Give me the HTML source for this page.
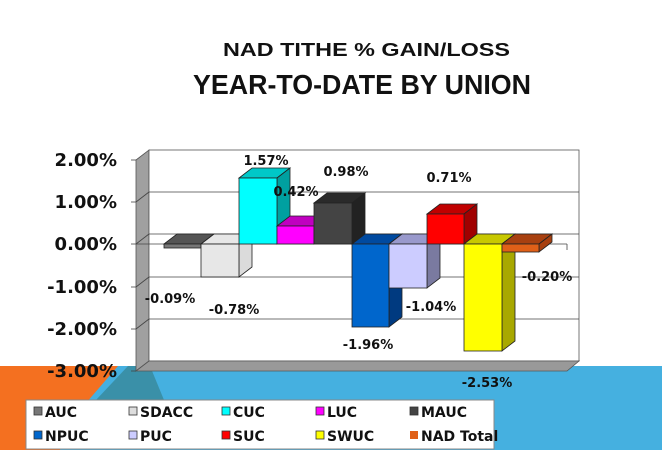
<!DOCTYPE html>
<html><head><style>
html,body{margin:0;padding:0;background:#fff;width:662px;height:450px;overflow:hidden}
svg{display:block}
text{font-family:"DejaVu Sans","Liberation Sans",sans-serif;font-weight:bold;fill:#111}
</style></head><body>
<svg width="662" height="450" viewBox="0 0 662 450" xmlns="http://www.w3.org/2000/svg">
<polygon points="0,366 138,366 100,405 95,450 0,450" fill="#f47020"/>
<polygon points="118,366 662,366 662,450 60,450 80,410" fill="#45b0e0"/>
<polygon points="128,366 150,366 164,400 96,400" fill="#3a90a8"/>
<text x="223" y="56" font-size="18" textLength="287" lengthAdjust="spacingAndGlyphs" style="font-family:'Liberation Sans',sans-serif">NAD TITHE % GAIN/LOSS</text>
<text x="193" y="94" font-size="28" textLength="338" lengthAdjust="spacingAndGlyphs" style="font-family:'Liberation Sans',sans-serif">YEAR-TO-DATE BY UNION</text>
<polygon points="136,160 149,150 149,361 136,371" fill="#a0a0a0" stroke="#555" stroke-width="0.8"/>
<rect x="149" y="150" width="430" height="211" fill="#fff" stroke="#555" stroke-width="0.8"/>
<polygon points="136,371 149,361 579,361 567,371" fill="#999" stroke="#555" stroke-width="0.8"/>
<g stroke="#444" stroke-width="0.8" fill="none">
<line x1="149" y1="192" x2="579" y2="192"/>
<line x1="149" y1="234" x2="579" y2="234"/>
<line x1="149" y1="277" x2="579" y2="277"/>
<line x1="149" y1="319" x2="579" y2="319"/>
<polyline points="136,202 149,192"/><polyline points="136,244 149,234"/><polyline points="136,287 149,277"/><polyline points="136,329 149,319"/>
<line x1="131" y1="160" x2="136" y2="160"/><line x1="131" y1="202" x2="136" y2="202"/><line x1="131" y1="244" x2="136" y2="244"/>
<line x1="131" y1="287" x2="136" y2="287"/><line x1="131" y1="329" x2="136" y2="329"/><line x1="131" y1="371" x2="136" y2="371"/>
<line x1="136" y1="244" x2="567" y2="244"/><line x1="567" y1="244" x2="567" y2="250"/>
</g>
<g stroke="#222" stroke-width="0.8">
<polygon points="164,244 177,234 214,234 201,244" fill="#555"/>
<rect x="164" y="244" width="37" height="4" fill="#777"/>
<polygon points="201,244 214,234 252,234 239,244" fill="#ddd" fill-opacity="0.7"/>
<polygon points="239,244 252,234 252,267 239,277" fill="#ccc" fill-opacity="0.7"/>
<rect x="201" y="244" width="38" height="33" fill="#ddd" fill-opacity="0.7"/>
<polygon points="239,178 252,168 290,168 277,178" fill="#00c8c8"/>
<polygon points="277,178 290,168 290,234 277,244" fill="#00a0a0"/>
<rect x="239" y="178" width="38" height="66" fill="#00ffff"/>
<polygon points="277,226 290,216 327,216 314,226" fill="#c000c0"/>
<polygon points="314,226 327,216 327,234 314,244" fill="#900090"/>
<rect x="277" y="226" width="37" height="18" fill="#ff00ff"/>
<polygon points="314,203 327,193 365,193 352,203" fill="#2a2a2a"/>
<polygon points="352,203 365,193 365,234 352,244" fill="#222"/>
<rect x="314" y="203" width="38" height="41" fill="#444"/>
<polygon points="352,244 365,234 402,234 389,244" fill="#004aa0"/>
<polygon points="389,244 402,234 402,317 389,327" fill="#003a80"/>
<rect x="352" y="244" width="37" height="83" fill="#0066cc"/>
<polygon points="389,244 402,234 440,234 427,244" fill="#9999cc"/>
<polygon points="427,244 440,234 440,278 427,288" fill="#7a7aa0"/>
<rect x="389" y="244" width="38" height="44" fill="#ccccff"/>
<polygon points="427,214 440,204 477,204 464,214" fill="#c00000"/>
<polygon points="464,214 477,204 477,234 464,244" fill="#a00000"/>
<rect x="427" y="214" width="37" height="30" fill="#ff0000"/>
<polygon points="464,244 477,234 515,234 502,244" fill="#c8c800"/>
<polygon points="502,244 515,234 515,341 502,351" fill="#a8a800"/>
<rect x="464" y="244" width="38" height="107" fill="#ffff00"/>
<polygon points="502,244 515,234 552,234 539,244" fill="#a84010"/>
<polygon points="539,244 552,234 552,242 539,252" fill="#a84010"/>
<rect x="502" y="244" width="37" height="8" fill="#e06018"/>
</g>
<g font-size="18" text-anchor="end">
<text x="117" y="166">2.00%</text>
<text x="117" y="208">1.00%</text>
<text x="117" y="250">0.00%</text>
<text x="117" y="293">-1.00%</text>
<text x="117" y="335">-2.00%</text>
<text x="117" y="377">-3.00%</text>
</g>
<g font-size="13" text-anchor="middle">
<text x="266" y="165">1.57%</text>
<text x="296" y="196">0.42%</text>
<text x="346" y="176">0.98%</text>
<text x="449" y="182">0.71%</text>
<text x="170" y="303">-0.09%</text>
<text x="234" y="314">-0.78%</text>
<text x="368" y="349">-1.96%</text>
<text x="431" y="311">-1.04%</text>
<text x="547" y="281">-0.20%</text>
<text x="487" y="387">-2.53%</text>
</g>
<rect x="26" y="400" width="468" height="49" fill="#fff" stroke="#888" stroke-width="1"/>
<g stroke="#333" stroke-width="0.8">
<rect x="34" y="407" width="8" height="8" fill="#777"/>
<rect x="129" y="407" width="8" height="8" fill="#ddd"/>
<rect x="222" y="407" width="8" height="8" fill="#00ffff"/>
<rect x="316" y="407" width="8" height="8" fill="#ff00ff"/>
<rect x="410" y="407" width="8" height="8" fill="#444"/>
<rect x="34" y="431" width="8" height="8" fill="#0066cc"/>
<rect x="129" y="431" width="8" height="8" fill="#ccccff"/>
<rect x="222" y="431" width="8" height="8" fill="#ff0000"/>
<rect x="316" y="431" width="8" height="8" fill="#ffff00"/>
<rect x="410" y="431" width="8" height="8" fill="#e06018" stroke="none"/>
</g>
<g font-size="14">
<text x="45" y="417">AUC</text>
<text x="140" y="417">SDACC</text>
<text x="233" y="417">CUC</text>
<text x="327" y="417">LUC</text>
<text x="421" y="417">MAUC</text>
<text x="45" y="441">NPUC</text>
<text x="140" y="441">PUC</text>
<text x="233" y="441">SUC</text>
<text x="327" y="441">SWUC</text>
<text x="421" y="441">NAD Total</text>
</g>
</svg>
</body></html>
